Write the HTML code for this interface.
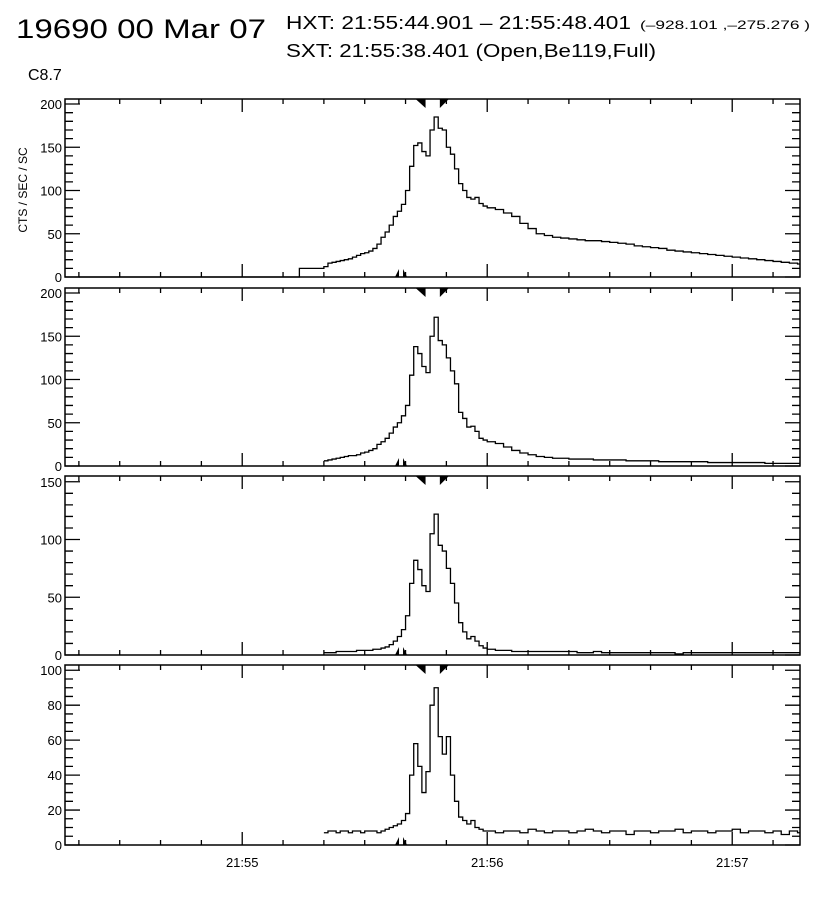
<!DOCTYPE html>
<html><head><meta charset="utf-8"><style>
body{margin:0;background:#fff;width:816px;height:900px;overflow:hidden}
svg{display:block}
text{font-family:"Liberation Sans",sans-serif;fill:#000}
</style></head><body>
<svg id="chart" width="816" height="900" viewBox="0 0 816 900" xmlns="http://www.w3.org/2000/svg">
<text x="16" y="38" font-size="27" textLength="250" lengthAdjust="spacingAndGlyphs">19690   00 Mar 07</text>
<text x="286" y="29" font-size="18" textLength="345" lengthAdjust="spacingAndGlyphs">HXT: 21:55:44.901 – 21:55:48.401</text>
<text x="640" y="29" font-size="12" textLength="170" lengthAdjust="spacingAndGlyphs">(–928.101 ,–275.276 )</text>
<text x="286" y="57" font-size="18" textLength="370" lengthAdjust="spacingAndGlyphs">SXT: 21:55:38.401 (Open,Be119,Full)</text>
<text x="28" y="80" font-size="16">C8.7</text>
<text transform="translate(27,190) rotate(-90)" text-anchor="middle" font-size="12">CTS / SEC / SC</text>
<g id="plots"></g>
</svg>
<script>
// time in seconds after 21:55:00
const denseStart = 20;       // 1 s bins
const tailStart = 60;        // 2 s bins
const tailBin = 2;
const tickLabels = ["21:55","21:56","21:57"];
const tickLabelTimes = [0,60,120];
const hxtStart = 44.9, hxtEnd = 48.4, sxtTime = 38.4;
const p1Pre = [0,10];
const p1PreEdges = [-40,14,20];
const p1Dense = [12,16,17,18,19,20,21,23,25,27,28,30,33,38,46,52,60,70,76,84,100,128,152,155,145,140,170,185,172,170,150,142,125,108,100,92,90,92,85,82];
const p1Tail = [80,78,74,70,62,56,50,48,46,45,44,43,42,42,41,40,39,38,36,35,34,33,31,30,29,28,27,26,25,24,23,22,21,20,19,18,17,16,15];
const p2Dense = [6,7,8,9,10,11,12,12,13,15,16,18,20,25,28,32,38,45,50,58,70,105,138,130,115,108,150,172,145,140,125,110,95,62,55,45,46,40,32,30];
const p2Tail = [28,26,22,18,15,13,11,10,9,9,8,8,8,7,7,7,7,6,6,6,6,5,5,5,5,5,5,4,4,4,4,4,4,4,3,3,3,3,3];
const p3Dense = [2,2,2,3,3,3,3,3,4,4,4,4,5,5,6,7,9,12,16,22,34,62,82,74,60,55,105,122,95,90,75,62,45,28,20,14,16,12,8,6];
const p3Tail = [5,4,4,3,3,3,3,3,3,3,3,2,2,3,2,2,2,2,2,2,2,2,2,1,2,2,2,2,2,2,2,2,2,2,2,2,2,2,2];
const p4Dense = [7,8,8,7,8,8,7,8,8,7,8,8,8,7,8,9,10,11,12,14,18,40,58,45,30,42,80,90,62,52,62,40,25,16,14,12,14,10,9,8];
const p4Tail = [8,7,8,8,7,9,8,7,8,8,7,8,9,8,7,8,8,6,8,8,7,8,8,9,7,8,8,7,8,8,9,7,8,8,7,8,6,8,7];

const X0=65, X1=800, T0=-43.4, T1=136.6;
const panels=[
 {top:99,bot:277,ymax:205.8,major:50,minor:10,labels:[0,50,100,150,200],dense:p1Dense,tail:p1Tail,pre:p1Pre,preEdges:p1PreEdges},
 {top:288,bot:466,ymax:205.8,major:50,minor:10,labels:[0,50,100,150,200],dense:p2Dense,tail:p2Tail},
 {top:476,bot:655,ymax:155,major:50,minor:10,labels:[0,50,100,150],dense:p3Dense,tail:p3Tail},
 {top:665,bot:845,ymax:103,major:20,minor:5,labels:[0,20,40,60,80,100],dense:p4Dense,tail:p4Tail}
];
const NS="http://www.w3.org/2000/svg";
const g=document.getElementById('plots');
const xs=t=>X0+(t-T0)/(T1-T0)*(X1-X0);
function mk(tag,attrs,parent){const e=document.createElementNS(NS,tag);for(const k in attrs)e.setAttribute(k,attrs[k]);(parent||g).appendChild(e);return e;}
panels.forEach((p,i)=>{
  const ys=v=>p.bot-v/p.ymax*(p.bot-p.top);
  const pg=mk('g',{});
  
  
  const fr=mk('rect',{x:X0,y:p.top,width:X1-X0,height:p.bot-p.top,fill:'none',stroke:'#000','stroke-width':1.5},pg);
  
  
  let d='';
  for(let t=-40;t<=T1;t+=10){
    const x=xs(t), L=(t%60===0)?13:5;
    d+=`M${x},${p.bot}v${-L}M${x},${p.top}v${L}`;
  }
  for(let v=0;v<=p.ymax;v+=p.minor){
    const y=ys(v), L=(v%p.major===0)?15:8;
    d+=`M${X0},${y}h${L}M${X1},${y}h${-L}`;
  }
  const tk=mk('path',{d:d,stroke:'#000','stroke-width':1.3,fill:'none'},pg);
  
  
  p.labels.forEach(v=>{
    const tx=mk('text',{x:62,y:ys(v)+5,'text-anchor':'end','font-size':13},pg);
    
    
    tx.textContent=v;
  });
  const edges=[],vals=[];
  if(p.pre){p.pre.forEach((v,k)=>{edges.push([p.preEdges[k],p.preEdges[k+1]]);vals.push(v);});}
  p.dense.forEach((v,k)=>{edges.push([denseStart+k,denseStart+k+1]);vals.push(v);});
  p.tail.forEach((v,k)=>{edges.push([tailStart+tailBin*k,Math.min(tailStart+tailBin*k+tailBin,T1)]);vals.push(v);});
  let h='';
  vals.forEach((v,k)=>{
    const a=xs(edges[k][0]),b=xs(edges[k][1]),y=ys(v);
    h+=(k===0?`M${a},${y}`:`L${a},${y}`)+`L${b},${y}`;
  });
  const hp=mk('path',{d:h,stroke:'#000','stroke-width':1.3,fill:'none'},pg);
  
  
  const a=xs(hxtStart),b=xs(hxtEnd),s=xs(sxtTime);
  const m=`M${a-10},${p.top}L${a},${p.top}L${a},${p.top+9}Z M${b},${p.top}L${b+9},${p.top}L${b},${p.top+9}Z M${s-4},${p.bot}L${s},${p.bot}L${s},${p.bot-8}Z M${s+4},${p.bot}L${s+4},${p.bot-8}L${s+8},${p.bot}Z`;
  const mp=mk('path',{d:m,fill:'#000'},pg);
  
  
});
tickLabels.forEach((l,k)=>{
  const tx=mk('text',{x:xs(tickLabelTimes[k]),y:867,'text-anchor':'middle','font-size':13});
  
  
  tx.textContent=l;
});
</script>
</body></html>
